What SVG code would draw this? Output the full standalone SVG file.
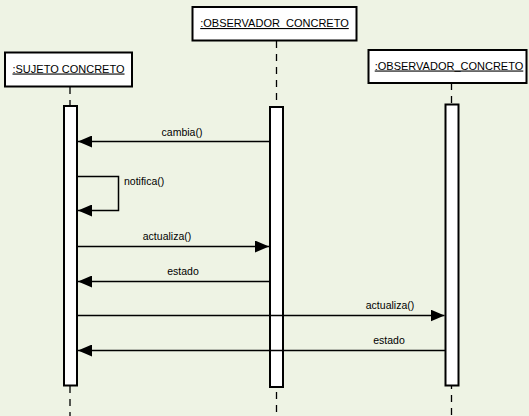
<svg xmlns="http://www.w3.org/2000/svg" width="529" height="416" viewBox="0 0 529 416">
  <style>
    .obj { fill: #ffffff; stroke: #000000; stroke-width: 2; }
    .act { fill: #ffffff; stroke: #000000; stroke-width: 2; }
    .life { stroke: #000000; stroke-width: 1.3; stroke-dasharray: 7 6; fill: none; }
    .msg { stroke: #000000; stroke-width: 1.5; fill: none; }
    .name { font-family: "Liberation Sans", Arial, sans-serif; font-size: 11px; fill: #000000; text-anchor: middle; text-decoration: underline; }
    .lbl { font-family: "Liberation Sans", Arial, sans-serif; font-size: 10.5px; fill: #000000; }
  </style>
  <defs>
    <marker id="head" viewBox="0 0 14 12" refX="14" refY="6" markerWidth="14" markerHeight="12" markerUnits="userSpaceOnUse" orient="auto">
      <path d="M0,0 L14,6 L0,12 Z" fill="#000000"/>
    </marker>
  </defs>

  <rect width="529" height="416" fill="#eef3e4"/>

  <!-- lifelines -->
  <g id="lifelines">
    <line class="life" x1="70" y1="87" x2="70" y2="416"/>
    <line class="life" x1="276.5" y1="41" x2="276.5" y2="416"/>
    <line class="life" x1="451.5" y1="83" x2="451.5" y2="416"/>
  </g>

  <g id="sujeto">
    <rect class="obj" x="5" y="52.5" width="127" height="34"/>
    <text class="name" x="68.5" y="72.5">:SUJETO CONCRETO</text>
    <rect class="act" x="64" y="106" width="13" height="279.5"/>
  </g>

  <g id="observador1">
    <rect class="obj" x="192.5" y="7" width="164" height="33.5"/>
    <text class="name" x="274.5" y="27">:OBSERVADOR_CONCRETO</text>
    <rect class="act" x="270" y="107" width="13" height="280"/>
  </g>

  <g id="observador2">
    <rect class="obj" x="368.5" y="50" width="158" height="33"/>
    <text class="name" x="449" y="69.5">:OBSERVADOR_CONCRETO</text>
    <rect class="act" x="445.5" y="104.5" width="13" height="281"/>
  </g>

  <!-- messages -->
  <g id="connectors">
    <line class="msg" x1="270" y1="141.5" x2="78" y2="141.5" marker-end="url(#head)"/>
    <polyline class="msg" points="77,176.5 118.5,176.5 118.5,210.5 78,210.5" marker-end="url(#head)"/>
    <line class="msg" x1="77" y1="246.5" x2="269" y2="246.5" marker-end="url(#head)"/>
    <line class="msg" x1="270" y1="281.5" x2="78" y2="281.5" marker-end="url(#head)"/>
    <line class="msg" x1="77" y1="315.5" x2="444.5" y2="315.5" marker-end="url(#head)"/>
    <line class="msg" x1="445.5" y1="350.5" x2="78" y2="350.5" marker-end="url(#head)"/>
  </g>

  <g id="labels">
    <text class="lbl" x="182" y="135.5" text-anchor="middle">cambia()</text>
    <text class="lbl" x="124" y="184.5">notifica()</text>
    <text class="lbl" x="167" y="240" text-anchor="middle">actualiza()</text>
    <text class="lbl" x="183" y="275" text-anchor="middle">estado</text>
    <text class="lbl" x="390" y="309" text-anchor="middle">actualiza()</text>
    <text class="lbl" x="389" y="344" text-anchor="middle">estado</text>
  </g>
</svg>
